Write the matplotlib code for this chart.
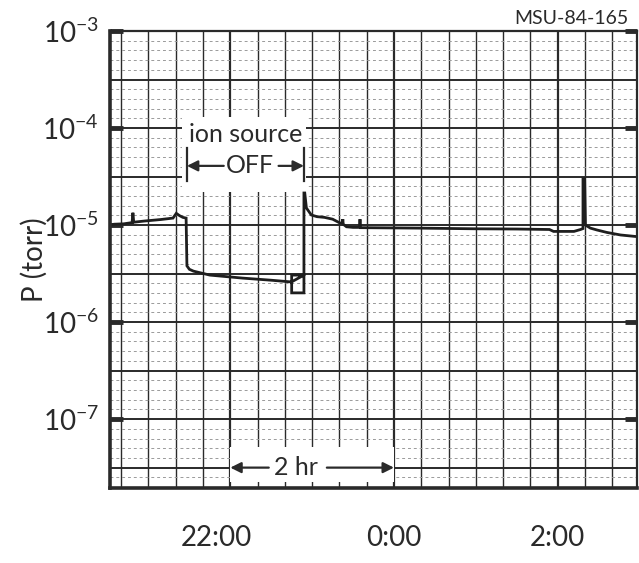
import numpy as np
import matplotlib
matplotlib.use("Agg")
import matplotlib.pyplot as plt
from matplotlib.ticker import FixedLocator, FuncFormatter, NullLocator

# chart recorder trace: time in hours relative to midnight, pressure in torr
time_hr = [-3.47, -3.42, -3.30, -3.20, -3.19, -3.18, -3.05, -2.85, -2.70,
           -2.66, -2.62, -2.58, -2.54, -2.53, -2.50, -2.45, -2.25, -1.85,
           -1.50, -1.27, -1.25, -1.25, -1.10, -1.10, -1.25, -1.25, -1.10,
           -1.10, -1.09, -1.07, -1.01, -0.94, -0.85, -0.75, -0.66, -0.63,
           -0.625, -0.62, -0.58, -0.50, -0.42, -0.415, -0.41, 0.30, 1.00,
           1.50, 1.90, 1.95, 2.20, 2.28, 2.31, 2.31, 2.33, 2.34, 2.40,
           2.48, 2.60, 2.77, 2.97]
pressure_torr = [1.00e-5, 1.02e-5, 1.03e-5, 1.06e-5, 1.34e-5, 1.07e-5, 1.10e-5,
                 1.14e-5, 1.18e-5, 1.32e-5, 1.25e-5, 1.20e-5, 1.18e-5, 3.8e-6,
                 3.5e-6, 3.35e-6, 3.05e-6, 2.84e-6, 2.70e-6, 2.60e-6, 2.60e-6,
                 2.0e-6, 2.0e-6, 3.05e-6, 3.05e-6, 2.60e-6, 3.05e-6, 2.14e-5,
                 2.14e-5, 1.50e-5, 1.27e-5, 1.22e-5, 1.20e-5, 1.15e-5, 1.05e-5,
                 1.05e-5, 1.15e-5, 1.02e-5, 9.6e-6, 9.46e-6, 9.46e-6, 1.15e-5,
                 9.4e-6, 9.3e-6, 9.15e-6, 9.1e-6, 9.0e-6, 8.6e-6, 8.6e-6, 9.0e-6,
                 9.2e-6, 3.0e-5, 3.0e-5, 1.0e-5, 9.3e-6, 8.9e-6, 8.4e-6, 7.9e-6,
                 7.6e-6]

hour_ticks = [-2.17, 0, 2]
hour_labels = ["22:00", "0:00", "2:00"]
decade_exps = [-3, -4, -5, -6, -7]

ion_off_start, ion_off_end = -2.53, -1.10

INK = "#2a2a2a"
plt.rcParams["font.family"] = ["Lato", "DejaVu Sans"]
plt.rcParams["mathtext.fontset"] = "custom"
plt.rcParams["mathtext.rm"] = "Lato"

fig = plt.figure(figsize=(6.39, 5.63), dpi=100)
ax = fig.add_axes([110 / 639, 1 - 488 / 563, 527 / 639, 457 / 563])
ax.set_yscale("log")
ax.set_xlim(-3.47, 2.97)
ax.set_ylim(10 ** -7.71, 1e-3)

# chart paper grid: 20 min verticals, 1/10 decade horizontals
for k in range(-10, 9):
    thick = k % 6 == 0
    ax.axvline(k / 3, color=INK, lw=1.6 if thick else 1.0, zorder=1)
for j in range(-77, -29):
    y = 10 ** (j / 10)
    if j % 5 == 0:
        ax.axhline(y, color=INK, lw=1.4, zorder=1)
    else:
        ax.axhline(y, color="#9a9a9a", lw=0.7, ls=(0, (3, 3)), zorder=1)

# white patches behind the hand lettering
ax.fill([-2.59, -1.08, -1.08, -2.59],
        [10 ** -3.887, 10 ** -3.887, 10 ** -4.66, 10 ** -4.66],
        color="white", zorder=2, lw=0)
ax.fill([-2.0, 0.0, 0.0, -2.0],
        [10 ** -7.29, 10 ** -7.29, 10 ** -7.65, 10 ** -7.65],
        color="white", zorder=2, lw=0)

ax.plot(time_hr, pressure_torr, color="#1e1e1e", lw=2.0, zorder=3,
        solid_joinstyle="miter")

# annotations
ax.text(-1.81, 10 ** -4.07, "ion source", fontsize=18, color=INK,
        ha="center", va="center", zorder=4)
ax.text(-1.76, 10 ** -4.39, "OFF", fontsize=18, color=INK,
        ha="center", va="center", zorder=4)
for xb in (ion_off_start, ion_off_end):
    ax.plot([xb, xb], [10 ** -4.21, 10 ** -4.55], color=INK, lw=1.6, zorder=4)
arrow = dict(arrowstyle="-|>", lw=1.6, color=INK, mutation_scale=16,
             shrinkA=0, shrinkB=0)
ax.annotate("", xy=(ion_off_start, 10 ** -4.39), xytext=(-2.08, 10 ** -4.39),
            arrowprops=arrow, zorder=4)
ax.annotate("", xy=(ion_off_end, 10 ** -4.39), xytext=(-1.41, 10 ** -4.39),
            arrowprops=arrow, zorder=4)

ax.text(-1.2, 10 ** -7.50, "2 hr", fontsize=18, color=INK,
        ha="center", va="center", zorder=4)
ax.annotate("", xy=(-2.0, 10 ** -7.50), xytext=(-1.53, 10 ** -7.50),
            arrowprops=arrow, zorder=4)
ax.annotate("", xy=(0.0, 10 ** -7.50), xytext=(-0.82, 10 ** -7.50),
            arrowprops=arrow, zorder=4)

# axes
for side, lw in (("left", 2.6), ("bottom", 2.6), ("top", 1.6), ("right", 1.6)):
    ax.spines[side].set_linewidth(lw)
    ax.spines[side].set_color(INK)
    ax.spines[side].set_zorder(5)

ax.yaxis.set_major_locator(FixedLocator([10.0 ** e for e in decade_exps]))
ax.yaxis.set_minor_locator(NullLocator())
ax.yaxis.set_major_formatter(
    FuncFormatter(lambda v, p: r"$\mathregular{10^{%d}}$" % round(np.log10(v))))
ax.tick_params(axis="y", which="major", direction="in", length=9, width=3.5,
               color=INK, left=True, right=True, labelsize=20, labelcolor=INK,
               pad=8)
ax.set_xticks(hour_ticks)
ax.set_xticklabels(hour_labels)
ax.tick_params(axis="x", length=0, labelsize=20, labelcolor=INK, pad=27)

ax.set_ylabel("P (torr)", fontsize=20, color=INK, labelpad=-4)
fig.text(628 / 639, 1 - 19 / 563, "MSU-84-165", fontsize=14, color=INK,
         ha="right", va="center")

fig.savefig("out.png", dpi=100, facecolor="white")
